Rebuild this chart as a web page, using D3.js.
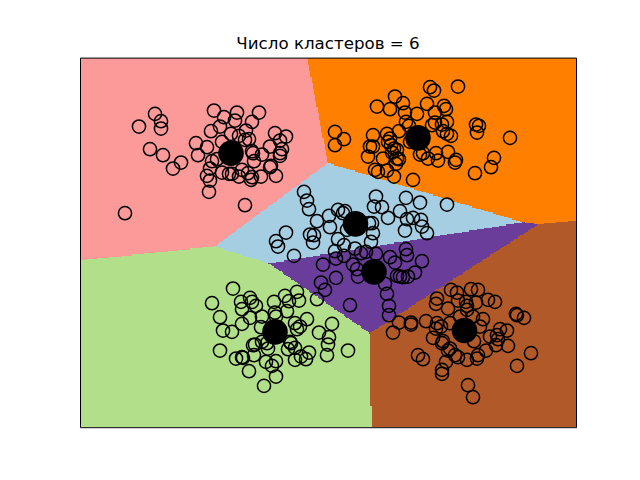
<!DOCTYPE html>
<html>
<head>
<meta charset="utf-8">
<script src="https://cdn.jsdelivr.net/npm/d3@7"></script>
<style>
body { margin: 0; background: #fff; }
svg { display: block; }
</style>
</head>
<body>
<div id="viz-wrapper"></div>
<script>
var width = 640;
var height = 480;

var titleText = 'Число кластеров = 6';

// region colours, same order as the centres
var regionColors = ['#fb9a99', '#ff7f00', '#a6cee3', '#6a3d9a', '#b2df8a', '#b15928'];

var xExtent = [0, 49.6];
var yExtent = [0, 55.44];

// cluster centres
var centerX = [15.1, 33.8, 27.55, 29.4, 19.5, 38.45];
var centerY = [41.1, 43.4, 30.5, 23.3, 14.3, 14.5];

// points of each cluster
var pinkPoints = [[5.9,45.1],[7.5,47.0],[8.1,45.9],[8.1,44.8],[7.0,41.7],[8.3,40.8],[10.1,39.7],[9.3,38.8],[4.5,32.1],[16.5,33.3],[13.4,47.5],[14.4,46.5],[15.7,47.2],[15.5,46.0],[17.9,47.2],[17.2,45.8],[14.0,45.1],[13.1,44.4],[16.6,44.5],[15.1,44.0],[15.9,43.7],[16.9,43.2],[14.2,42.8],[11.6,42.6],[12.7,42.0],[11.8,40.8],[19.5,44.1],[20.6,43.6],[20.0,43.0],[19.0,42.1],[20.2,41.7],[20.0,41.1],[20.0,40.7],[17.2,41.4],[17.3,41.1],[18.2,40.9],[17.4,39.9],[13.2,39.9],[13.7,40.2],[13.0,38.8],[12.7,37.7],[13.0,37.0],[12.9,35.3],[14.2,38.2],[14.9,38.0],[15.2,38.0],[15.9,37.6],[16.8,38.1],[17.2,37.5],[17.1,37.1],[18.1,37.6],[19.6,37.7],[19.0,39.0],[19.1,39.2],[16.5,43.1],[16.2,38.6]];
var orangePoints = [[25.5,44.3],[26.4,43.2],[25.5,42.3],[29.7,48.1],[31.5,49.6],[31.0,47.7],[32.3,48.6],[32.5,47.2],[33.7,47.0],[34.7,48.5],[35.5,47.2],[36.4,48.2],[36.6,47.7],[35.0,51.0],[35.4,50.5],[37.8,51.1],[29.3,43.8],[30.7,44.0],[31.9,44.4],[32.6,45.8],[32.9,45.2],[35.2,45.3],[35.5,45.7],[36.2,45.4],[36.7,45.8],[36.3,44.4],[36.7,44.0],[37.1,43.7],[39.7,44.2],[39.6,45.4],[39.9,45.2],[43.0,43.4],[29.0,42.1],[29.3,42.1],[28.8,40.6],[30.3,40.3],[31.0,43.3],[30.8,42.8],[31.1,42.3],[31.7,41.6],[31.4,41.8],[31.9,40.2],[31.7,40.3],[31.6,39.5],[29.5,38.6],[29.8,38.3],[30.7,38.5],[31.4,37.6],[33.3,37.1],[34.0,40.9],[34.3,41.1],[34.8,40.3],[35.6,41.1],[35.8,40.0],[36.8,41.3],[37.6,40.1],[37.5,39.7],[41.4,40.4],[41.1,39.0],[39.5,38.1],[31.2,41.2],[33.0,42.8]];
var bluePoints = [[22.4,35.3],[22.7,34.0],[22.9,32.7],[23.7,30.9],[24.9,31.7],[25.0,30.0],[25.8,32.6],[26.5,32.4],[26.3,32.1],[29.6,34.6],[29.4,33.1],[30.2,33.0],[30.8,31.4],[32.0,32.4],[32.6,34.4],[34.0,33.7],[36.7,33.4],[32.7,31.2],[33.3,31.4],[34.1,31.1],[34.2,30.1],[34.7,29.1],[32.5,29.5],[29.2,30.6],[28.9,30.6],[29.3,29.1],[29.1,27.8],[25.8,28.2],[26.4,27.3],[27.5,26.8],[26.7,29.6],[20.6,29.2],[19.6,27.9],[19.8,27.1],[23.0,28.9],[23.4,28.8],[23.3,27.7]];
var purplePoints = [[21.4,25.7],[25.5,26.4],[25.6,25.3],[26.4,25.7],[24.3,24.4],[25.6,22.4],[27.3,24.4],[27.7,23.7],[27.8,22.6],[28.1,26.1],[28.6,26.3],[29.6,26.0],[31.0,25.5],[31.5,24.7],[32.6,26.7],[32.7,25.8],[34.2,24.9],[33.5,23.2],[32.8,22.6],[32.3,22.5],[32.0,22.6],[31.7,22.7],[30.5,21.5],[30.7,20.0],[30.9,18.2],[30.9,16.8],[24.1,21.7],[24.5,20.6],[23.7,19.2],[27.0,18.3]];
var greenPoints = [[15.3,20.8],[13.2,18.6],[16.1,18.8],[17.0,19.4],[17.2,18.8],[17.6,18.2],[16.2,17.7],[14.0,16.5],[17.0,16.4],[16.2,15.5],[14.3,14.5],[15.2,14.3],[18.2,16.6],[19.4,18.8],[20.5,19.7],[20.9,18.9],[21.7,20.3],[21.9,19.0],[20.7,17.4],[19.5,17.2],[19.6,16.6],[22.7,16.2],[21.5,15.6],[22.0,15.1],[21.7,14.7],[18.1,15.0],[25.2,15.5],[23.9,14.2],[24.9,13.5],[24.8,12.4],[24.7,10.8],[26.8,11.5],[14.0,11.5],[15.6,10.3],[16.2,10.5],[16.3,10.4],[17.4,10.8],[17.3,12.3],[17.5,12.4],[18.2,12.8],[18.8,11.8],[18.7,12.6],[20.8,11.7],[21.1,12.6],[21.5,11.9],[21.0,12.8],[22.9,11.2],[22.1,10.6],[22.6,10.2],[21.5,10.1],[18.6,9.8],[19.6,9.9],[19.2,9.2],[16.9,8.4],[19.6,7.6],[18.4,6.2]];
var brownPoints = [[31.9,15.7],[31.3,14.2],[33.1,15.7],[33.1,15.4],[34.6,15.9],[35.7,15.6],[35.6,14.8],[36.1,15.1],[37.0,15.6],[35.3,13.4],[36.3,12.9],[36.2,12.6],[37.0,11.8],[36.8,11.5],[38.0,16.6],[40.3,16.2],[40.0,15.1],[39.4,12.9],[41.0,13.6],[41.7,13.8],[42.0,14.7],[42.7,14.5],[41.8,13.2],[41.6,12.3],[42.8,12.2],[40.6,11.5],[39.8,10.8],[39.7,10.3],[38.7,10.1],[37.8,10.5],[37.5,10.8],[36.6,9.8],[33.8,10.8],[34.3,10.2],[36.2,8.6],[36.2,8.0],[43.7,9.2],[45.1,11.1],[38.8,6.3],[39.3,4.5],[35.7,19.3],[35.6,18.5],[36.8,17.8],[37.1,20.6],[37.7,20.2],[37.8,19.0],[38.6,18.8],[38.7,18.2],[38.7,17.6],[39.6,18.7],[39.1,20.7],[39.8,20.6],[40.8,19.1],[41.5,18.8],[43.6,17.0],[43.7,16.8],[44.4,16.4],[39.3,16.6]];

var allPoints = [].concat(pinkPoints, orangePoints, bluePoints, purplePoints, greenPoints, brownPoints);
var centers = centerX.map(function(v, i) { return [v, centerY[i]]; });

var x = d3.scaleLinear().domain(xExtent).range([80, 576]);
var y = d3.scaleLinear().domain(yExtent).range([427.2, 57.6]);

var viz = d3.select('#viz-wrapper').append('svg').attr('width', width).attr('height', height);

// y distances count a bit more when picking the nearest centre
var yStretch = 1.03;
var delaunay = d3.Delaunay.from(centers, function(d) { return d[0]; }, function(d) { return d[1] * yStretch; });

// mesh of the decision regions, one path per centre, runs merged per row
var stepX = 0.12;
var stepY = 0.18;
var cellPaths = centers.map(function() { return ''; });
for (var j = 0; j * stepY < yExtent[1]; j++) {
	var rowY = (j + 0.5) * stepY;
	var y0 = y(j * stepY);
	var y1 = y(Math.min((j + 1) * stepY, yExtent[1]));
	var runStart = 0;
	var runOwner = delaunay.find(0.5 * stepX, rowY * yStretch);
	for (var i = 1; ; i++) {
		var done = i * stepX >= xExtent[1];
		var owner = done ? -1 : delaunay.find((i + 0.5) * stepX, rowY * yStretch, runOwner);
		if (owner !== runOwner) {
			var x0 = x(runStart * stepX);
			var x1 = x(Math.min(i * stepX, xExtent[1]));
			cellPaths[runOwner] += 'M' + x0 + ',' + y0 + 'H' + x1 + 'V' + y1 + 'H' + x0 + 'Z';
			runStart = i;
			runOwner = owner;
		}
		if (done) break;
	}
}

viz.selectAll('path.cell').data(cellPaths).enter().append('path')
	.attr('class', 'cell')
	.attr('d', function(d) { return d; })
	.attr('fill', function(d, i) { return regionColors[i]; })
	.attr('shape-rendering', 'crispEdges');

viz.selectAll('circle.point').data(allPoints).enter().append('circle')
	.attr('class', 'point')
	.attr('cx', function(d) { return x(d[0]); })
	.attr('cy', function(d) { return y(d[1]); })
	.attr('r', 6.6)
	.attr('fill', 'none')
	.attr('stroke', '#000')
	.attr('stroke-width', 1.5);

viz.selectAll('circle.center').data(centers).enter().append('circle')
	.attr('class', 'center')
	.attr('cx', function(d) { return x(d[0]); })
	.attr('cy', function(d) { return y(d[1]); })
	.attr('r', 12.8)
	.attr('fill', '#000');

// no ticks, only the frame
var axes = [
	[d3.axisBottom(x), 0, 427.2],
	[d3.axisTop(x), 0, 57.6],
	[d3.axisLeft(y), 80, 0],
	[d3.axisRight(y), 576, 0]
];
axes.forEach(function(a) {
	viz.append('g')
		.attr('transform', 'translate(' + a[1] + ',' + a[2] + ')')
		.call(a[0].tickValues([]).tickSizeOuter(0));
});

viz.append('text')
	.attr('x', 328)
	.attr('y', 49)
	.attr('text-anchor', 'middle')
	.style('font-family', '"DejaVu Sans"')
	.style('font-size', '16.67px')
	.style('fill', '#000')
	.text(titleText);
</script>
</body>
</html>
